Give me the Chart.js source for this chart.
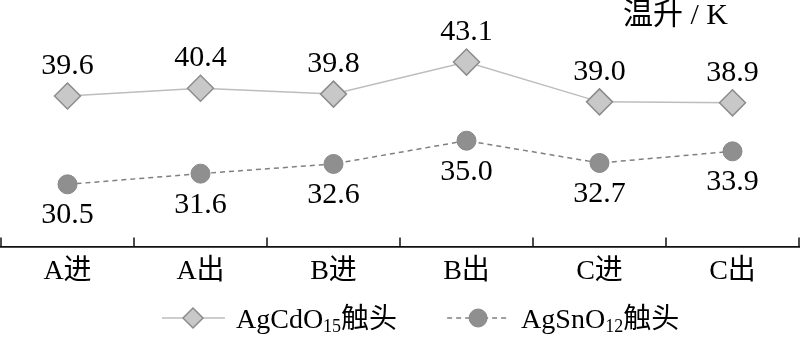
<!DOCTYPE html>
<html>
<head>
<meta charset="utf-8">
<script src="https://cdn.jsdelivr.net/npm/chart.js@4/dist/chart.umd.min.js"></script>
<style>
  html, body { margin: 0; padding: 0; background: #fff; }
  #wrap { width: 800px; height: 338px; }
</style>
</head>
<body>
<div id="wrap"><canvas id="tempRiseChart" width="800" height="338"></canvas></div>
<script>
// --- Data ---
const positions = ['A进', 'A出', 'B进', 'B出', 'C进', 'C出'];
const agcdoValues = [39.6, 40.4, 39.8, 43.1, 39.0, 38.9];
const agsnoValues = [30.5, 31.6, 32.6, 35.0, 32.7, 33.9];
const seriesNames = [['AgCdO', '15', '触头'], ['AgSnO', '12', '触头']];
const unitLabel = '温升 / K';

const FONT = "'Liberation Serif', 'Times New Roman', 'Noto Sans CJK SC', serif";

// value labels: first series above the point, second below
const valueLabels = {
  id: 'valueLabels',
  afterDatasetsDraw(chart) {
    const ctx = chart.ctx;
    ctx.save();
    ctx.font = '30px ' + FONT;
    ctx.fillStyle = '#000';
    ctx.textAlign = 'center';
    ctx.textBaseline = 'middle';
    chart.data.datasets.forEach((ds, i) => {
      chart.getDatasetMeta(i).data.forEach((pt, j) => {
        const dy = i === 0 ? -30 : 31;
        ctx.fillText(ds.data[j].toFixed(1), pt.x, pt.y + dy);
      });
    });
    ctx.restore();
  }
};

// short upward tick marks between categories + unit label + legend with subscripts
const extras = {
  id: 'extras',
  afterDraw(chart) {
    const ctx = chart.ctx;
    const x = chart.scales.x;
    const area = chart.chartArea;
    ctx.save();

    // tick marks
    ctx.strokeStyle = '#111';
    ctx.lineWidth = 1.5;
    for (let i = 0; i <= positions.length; i++) {
      const px = Math.min(Math.max(Math.round(x.getPixelForValue(i - 0.5)), 1), 799);
      ctx.beginPath();
      ctx.moveTo(px, area.bottom);
      ctx.lineTo(px, area.bottom - 9);
      ctx.stroke();
    }

    // unit label
    ctx.fillStyle = '#000';
    ctx.font = '30px ' + FONT;
    ctx.textAlign = 'right';
    ctx.textBaseline = 'middle';
    ctx.fillText(unitLabel, 728, 16);

    // legend
    const ly = 318;
    let lx = 162;
    chart.data.datasets.forEach((ds, i) => {
      ctx.strokeStyle = ds.borderColor;
      ctx.lineWidth = ds.borderWidth;
      ctx.setLineDash(ds.borderDash || []);
      ctx.beginPath();
      ctx.moveTo(lx, ly);
      ctx.lineTo(lx + 63, ly);
      ctx.stroke();
      ctx.setLineDash([]);

      const cx = lx + 31;
      ctx.fillStyle = ds.pointBackgroundColor;
      ctx.strokeStyle = ds.pointBorderColor;
      ctx.lineWidth = ds.pointBorderWidth;
      ctx.beginPath();
      if (ds.pointStyle === 'rectRot') {
        const r = 10;
        ctx.moveTo(cx, ly - r);
        ctx.lineTo(cx + r, ly);
        ctx.lineTo(cx, ly + r);
        ctx.lineTo(cx - r, ly);
        ctx.closePath();
      } else {
        ctx.arc(cx, ly, 9, 0, Math.PI * 2);
      }
      ctx.fill();
      ctx.stroke();

      // text with subscript
      const parts = seriesNames[i];
      let tx = lx + 74;
      ctx.fillStyle = '#000';
      ctx.textAlign = 'left';
      ctx.textBaseline = 'alphabetic';
      ctx.font = '28px ' + FONT;
      ctx.fillText(parts[0], tx, ly + 10);
      tx += ctx.measureText(parts[0]).width;
      ctx.font = '18px ' + FONT;
      ctx.fillText(parts[1], tx, ly + 14);
      tx += ctx.measureText(parts[1]).width;
      ctx.font = '28px ' + FONT;
      ctx.fillText(parts[2], tx, ly + 10);
      tx += ctx.measureText(parts[2]).width;

      lx = tx + 50;
    });
    ctx.restore();
  }
};

new Chart(document.getElementById('tempRiseChart').getContext('2d'), {
  type: 'line',
  data: {
    labels: positions,
    datasets: [{
      label: 'AgCdO15触头',
      data: agcdoValues,
      borderColor: '#bdbdbd',
      borderWidth: 1.5,
      pointStyle: 'rectRot',
      pointRadius: 13,
      pointBackgroundColor: '#c8c8c8',
      pointBorderColor: '#8c8c8c',
      pointBorderWidth: 1.5,
      tension: 0
    }, {
      label: 'AgSnO12触头',
      data: agsnoValues,
      borderColor: '#808080',
      borderWidth: 1.5,
      borderDash: [5, 4],
      pointStyle: 'circle',
      pointRadius: 9.5,
      pointBackgroundColor: '#8f8f8f',
      pointBorderColor: '#888888',
      pointBorderWidth: 1,
      tension: 0
    }]
  },
  options: {
    responsive: false,
    animation: false,
    layout: { autoPadding: false, padding: { left: 1, right: 1, top: 0, bottom: 42 } },
    plugins: { legend: { display: false }, tooltip: { enabled: false } },
    scales: {
      x: {
        offset: true,
        grid: { display: false, drawTicks: false },
        border: { display: true, color: '#111', width: 1.8 },
        ticks: {
          color: '#000',
          padding: 8,
          font: { family: FONT, size: 28 }
        }
      },
      y: {
        display: false,
        min: 24.1,
        max: 49.5
      }
    }
  },
  plugins: [valueLabels, extras]
});
</script>
</body>
</html>
